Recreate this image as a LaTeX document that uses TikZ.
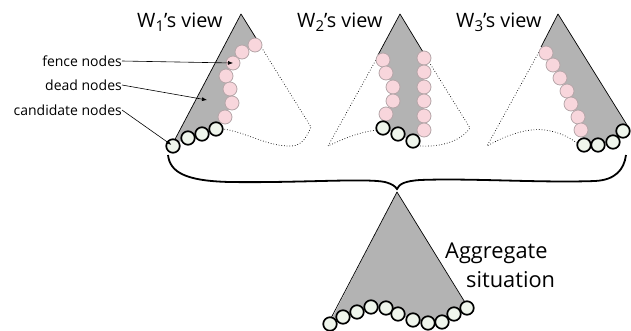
\documentclass[tikz,border=0pt]{standalone}
\usepackage{fontspec}
\setmainfont{Open Sans}
\usetikzlibrary{arrows.meta}
\definecolor{deadgray}{HTML}{B3B3B3}
\definecolor{fencepink}{HTML}{F8D6DC}
\definecolor{fenceedge}{HTML}{B5A5A8}
\definecolor{candfill}{HTML}{EFF5EC}
\tikzset{
  fencenode/.style={circle, inner sep=0pt, minimum size=14pt, fill=fencepink, draw=fenceedge, line width=0.8pt},
  candnode/.style={circle, inner sep=0pt, minimum size=13.5pt, fill=candfill, draw=black, line width=1.7pt},
  deadarea/.style={fill=deadgray},
  edge/.style={line width=0.7pt, line join=round},
  hidden/.style={dotted, line width=0.7pt},
  title/.style={font=\fontsize{19.8}{22}\selectfont, inner sep=0pt},
  bigtitle/.style={font=\fontsize{21.8}{24}\selectfont, inner sep=0pt},
  callout/.style={font=\fontsize{14}{16}\selectfont, inner sep=0pt},
  pointer/.style={-{Latex[length=5pt,width=4pt]}, line width=0.6pt},
  brace/.style={line width=1.8pt}
}
\newcommand{\sub}[1]{\raisebox{-0.45ex}{\fontsize{15}{15}\selectfont #1}}
\begin{document}
\begin{tikzpicture}[x=1pt,y=-1pt]
\useasboundingbox (0,0) rectangle (631,330);

% ---------- view of W1 ----------
\fill[deadarea] (241,14) -- (172,145) -- (188,138) -- (202,134) -- (216,129)
  -- (225,117) -- (232,103) -- (230,89) -- (226,76) -- (233,63) -- (242,52) -- (255,45) -- (259,42) -- cycle;
\draw[edge] (172,145) -- (241,14) -- (259,43);
\draw[hidden] (260,45) -- (311,127) .. controls (305,141) and (300,147) .. (287,146)
  .. controls (265,145) and (245,132) .. (223,129);
\node[fencenode] (a1) at (255,45) {};
\node[fencenode] (a2) at (242,52) {};
\node[fencenode] (a3) at (233,63) {};
\node[fencenode] (a4) at (226,76) {};
\node[fencenode] (a5) at (230,89) {};
\node[fencenode] (a6) at (232,103) {};
\node[fencenode] (a7) at (225,117) {};
\node[candnode] (ac4) at (216,129) {};
\node[candnode] (ac3) at (202,134) {};
\node[candnode] (ac2) at (188,138) {};
\node[candnode] (ac1) at (173,146) {};
\coordinate (deadpt) at (207,100);

% ---------- view of W2 ----------
\fill[deadarea] (400,14) -- (378,55) -- (383,60) -- (386,73) -- (393,87) -- (393,101) -- (386,114)
  -- (383,128) -- (398,134) -- (413,141) -- (424,130) -- (424,116) -- (424,101) -- (424,87)
  -- (424,72) -- (424,58) -- (423,52) -- cycle;
\draw[edge] (378,55) -- (400,14) -- (423,52);
\draw[hidden] (377,58) -- (328,146) .. controls (345,138) and (360,132) .. (377,130);
\draw[hidden] (429,62) -- (470,128) .. controls (460,142) and (440,147) .. (420,146);
\node[fencenode] (b1) at (383,60) {};
\node[fencenode] (b2) at (386,73) {};
\node[fencenode] (b3) at (393,87) {};
\node[fencenode] (b4) at (393,101) {};
\node[fencenode] (b5) at (386,114) {};
\node[fencenode] (b6) at (424,58) {};
\node[fencenode] (b7) at (424,72) {};
\node[fencenode] (b8) at (424,87) {};
\node[fencenode] (b9) at (424,101) {};
\node[fencenode] (b10) at (424,116) {};
\node[fencenode] (b11) at (424,130) {};
\node[candnode] (bc1) at (383,128) {};
\node[candnode] (bc2) at (398,134) {};
\node[candnode] (bc3) at (413,141) {};

% ---------- view of W3 ----------
\fill[deadarea] (558,14) -- (541,47) -- (546,53) -- (553,65) -- (560,78) -- (567,91) -- (571,104)
  -- (578,117) -- (581,130) -- (584,145) -- (598,145) -- (613,142) -- (623,131) -- (627,125) -- cycle;
\draw[edge] (541,47) -- (558,14) -- (627,125);
\draw[hidden] (540,50) -- (487,146) .. controls (510,133) and (530,128) .. (545,130)
  .. controls (560,132) and (570,138) .. (577,143);
\node[fencenode] (c1) at (546,53) {};
\node[fencenode] (c2) at (553,65) {};
\node[fencenode] (c3) at (560,78) {};
\node[fencenode] (c4) at (567,91) {};
\node[fencenode] (c5) at (571,104) {};
\node[fencenode] (c6) at (578,117) {};
\node[fencenode] (c7) at (581,130) {};
\node[candnode] (cc1) at (584,145) {};
\node[candnode] (cc2) at (598,145) {};
\node[candnode] (cc3) at (613,142) {};
\node[candnode] (cc4) at (623,131) {};

% ---------- titles ----------
\node[title, anchor=base west] (t1) at (137,27) {W\sub{1}’s view};
\node[title, anchor=base west] (t2) at (297,27) {W\sub{2}’s view};
\node[title, anchor=base west] (t3) at (456,27) {W\sub{3}’s view};

% ---------- callouts ----------
\node[callout, anchor=east] (lf) at (122,61) {fence nodes};
\node[callout, anchor=east] (ld) at (122,85) {dead nodes};
\node[callout, anchor=east] (lc) at (122,110) {candidate nodes};
\draw[pointer] (lf.east) -- (a3.center);
\draw[pointer] (ld.east) -- (deadpt);
\draw[pointer, shorten >=2pt] (lc.east) -- (ac1.center);

% ---------- brace ----------
\draw[brace] (168,155) .. controls (170,172) and (185,181) .. (230,182)
  .. controls (300,183) and (365,178) .. (385,182) .. controls (392,184) and (395,186) .. (397,189)
  .. controls (399,184) and (405,181) .. (420,180) .. controls (470,178) and (540,183) .. (595,181)
  .. controls (615,180) and (624,170) .. (626,155);

% ---------- aggregate ----------
\fill[deadarea] (397,192) -- (330,322) -- (343,317) -- (357,312) -- (371,307) -- (386,308) -- (398,314)
  -- (413,320) -- (428,323) -- (442,322) -- (454,314) -- (467,306) -- cycle;
\draw[edge] (330,320) -- (397,192) -- (466,304);
\node[candnode] (g1) at (330,324) {};
\node[candnode] (g2) at (343,317) {};
\node[candnode] (g3) at (357,312) {};
\node[candnode] (g4) at (371,307) {};
\node[candnode] (g5) at (386,308) {};
\node[candnode] (g6) at (398,314) {};
\node[candnode] (g7) at (413,320) {};
\node[candnode] (g8) at (428,323) {};
\node[candnode] (g9) at (442,322) {};
\node[candnode] (g10) at (454,314) {};
\node[candnode] (g11) at (467,308) {};
\node[bigtitle, anchor=base west] (agg) at (445,258) {Aggregate};
\node[bigtitle, anchor=base west] (sit) at (466,287) {situation};
\end{tikzpicture}
\end{document}
